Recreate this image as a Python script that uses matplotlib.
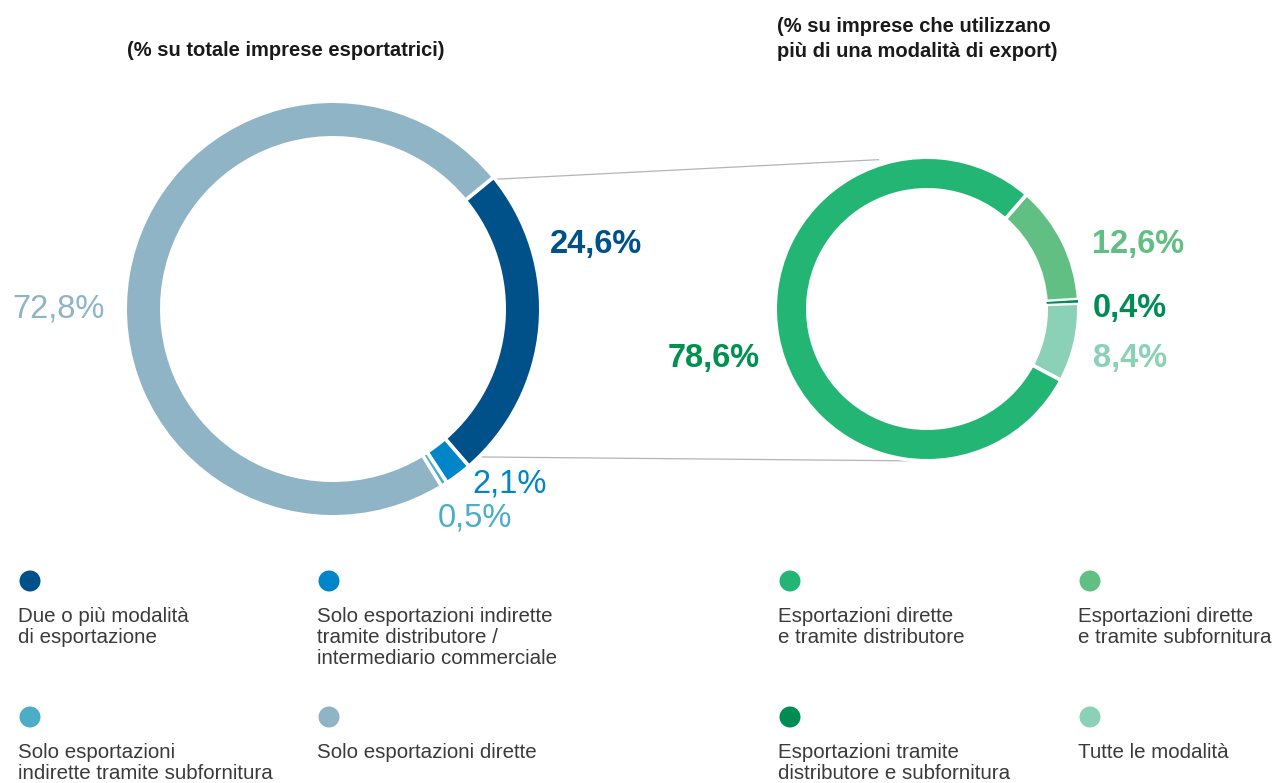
import numpy as np
import matplotlib.pyplot as plt
from matplotlib.patches import Circle

plt.rcParams['font.family'] = ['Liberation Sans', 'DejaVu Sans']

# left donut: % of exporting firms
left_labels = ['Due o più modalità\ndi esportazione',
               'Solo esportazioni indirette\ntramite distributore /\nintermediario commerciale',
               'Solo esportazioni\nindirette tramite subfornitura',
               'Solo esportazioni dirette']
left_values = [24.6, 2.1, 0.5, 72.8]
left_colors = ['#00508A', '#0086C8', '#4BADC6', '#8FB4C6']

# right donut: % of firms using more than one mode
right_labels = ['Esportazioni dirette\ne tramite distributore',
                'Esportazioni dirette\ne tramite subfornitura',
                'Esportazioni tramite\ndistributore e subfornitura',
                'Tutte le modalità']
right_values = [78.6, 12.6, 0.4, 8.4]
right_colors = ['#22B573', '#62BF83', '#008C55', '#8BD1B8']

W, H = 1277, 783
fig = plt.figure(figsize=(W / 100, H / 100), dpi=100)
ax = fig.add_axes([0, 0, 1, 1])


def Y(y):
    return H - y


def fmt(v):
    return f'{v:.1f}'.replace('.', ',') + '%'


edge = 2.6  # pt, white gap between slices
pad = edge / 72 * 100 / 2  # px eaten by the edge on each side

# left donut
lc = (333, Y(309))
lr = 206
lw, _ = ax.pie(left_values, colors=left_colors, startangle=39.4, counterclock=False,
               radius=lr + pad, center=lc,
               wedgeprops=dict(width=33 + 2 * pad, edgecolor='white', linewidth=edge))

# right donut (clockwise from the top-right gap)
order = [1, 2, 3, 0]
rc = (927, Y(309))
rr = 150
rw, _ = ax.pie([right_values[i] for i in order], colors=[right_colors[i] for i in order],
               startangle=49, counterclock=False, radius=rr + pad, center=rc,
               wedgeprops=dict(width=29 + 2 * pad, edgecolor='white', linewidth=edge))
# keep the tiny slice visible
rw[1].set_zorder(3)
rw[1].set_linewidth(0.8)


def polar(c, r, a):
    t = np.deg2rad(a)
    return c[0] + r * np.cos(t), c[1] + r * np.sin(t)


# connector lines
p1 = polar(lc, lr + 3, 38.4)
p2 = polar(rc, rr + 7, 108)
p3 = polar(lc, lr + 4, -44.8)
p4 = polar(rc, rr + 2, -90.8)
ax.plot([p1[0], p2[0]], [p1[1], p2[1]], color='#b5b5b5', lw=0.9, zorder=0)
ax.plot([p3[0], p4[0]], [p3[1], p4[1]], color='#b5b5b5', lw=0.9, zorder=0)

# value labels
big = 23.5
ax.text(550, Y(245), fmt(left_values[0]), color=left_colors[0], fontsize=big,
        fontweight='bold', va='center', ha='left')
ax.text(472, Y(484), fmt(left_values[1]), color=left_colors[1], fontsize=big,
        va='center', ha='left')
ax.text(438, Y(518), fmt(left_values[2]), color=left_colors[2], fontsize=big,
        va='center', ha='left')
ax.text(12, Y(309), fmt(left_values[3]), color=left_colors[3], fontsize=big,
        va='center', ha='left')

ax.text(668, Y(359), fmt(right_values[0]), color='#00904F', fontsize=big,
        fontweight='bold', va='center', ha='left')
ax.text(1092, Y(245), fmt(right_values[1]), color=right_colors[1], fontsize=big,
        fontweight='bold', va='center', ha='left')
ax.text(1093, Y(308), fmt(right_values[2]), color=right_colors[2], fontsize=big,
        fontweight='bold', va='center', ha='left')
ax.text(1093, Y(359), fmt(right_values[3]), color=right_colors[3], fontsize=big,
        fontweight='bold', va='center', ha='left')

# titles
ax.text(127, Y(51), '(% su totale imprese esportatrici)', fontsize=14.5,
        fontweight='bold', color='#1a1a1a', va='center', ha='left')
ax.text(777, Y(39), '(% su imprese che utilizzano\npiù di una modalità di export)',
        fontsize=14.5, fontweight='bold', color='#1a1a1a', va='center', ha='left',
        linespacing=1.4)

# legend
cols_l = [18, 317]
cols_r = [778, 1078]
rows = [581, 717]
for i in range(4):
    for xs, labels, colors in [(cols_l, left_labels, left_colors),
                               (cols_r, right_labels, right_colors)]:
        x = xs[i % 2]
        y = rows[i // 2]
        ax.add_patch(Circle((x + 12, Y(y)), 10.5, color=colors[i], lw=0))
        ax.text(x, Y(y + 26), labels[i], fontsize=14.8, color='#3a3a3a',
                va='top', ha='left', linespacing=1.15)

ax.set_xlim(0, W)
ax.set_ylim(0, H)
ax.set_aspect('equal')
ax.axis('off')

fig.savefig('out.png', dpi=100)
